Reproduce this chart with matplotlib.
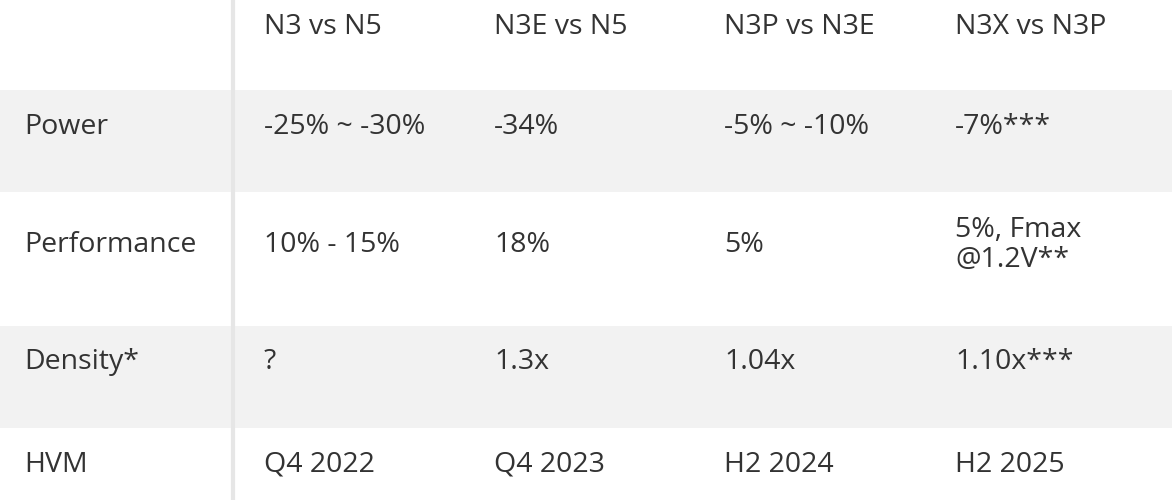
import matplotlib.pyplot as plt

columns = ["N3 vs N5", "N3E vs N5", "N3P vs N3E", "N3X vs N3P"]
row_labels = ["Power", "Performance", "Density*", "HVM"]
power = ["-25% ~ -30%", "-34%", "-5% ~ -10%", "-7%***"]
performance = ["10% - 15%", "18%", "5%", "5%, Fmax\n@1.2V**"]
density = ["?", "1.3x", "1.04x", "1.10x***"]
hvm = ["Q4 2022", "Q4 2023", "H2 2024", "H2 2025"]
rows = [power, performance, density, hvm]

# pixel layout of the table
row_bounds = [(90, 192), (192, 326), (326, 428), (428, 500)]
row_text_y = [127, 245, 362, 465]
row_fill = ["#f2f2f2", "white", "#f2f2f2", "white"]
col_x = [264, 494, 724, 955]
label_x = 24
text_color = "#333333"
font = dict(family=["Open Sans", "DejaVu Sans"], fontsize=20.5, color=text_color, va="center")

fig = plt.figure(figsize=(11.72, 5.0), dpi=100)
ax = fig.add_axes([0, 0, 1, 1])
ax.set_xlim(0, 1172)
ax.set_ylim(500, 0)
ax.axis("off")

for (top, bottom), fill in zip(row_bounds, row_fill):
    ax.axhspan(top, bottom, color=fill, lw=0, zorder=0)
ax.axvline(233, color="#e6e6e6", lw=3, zorder=1)

for x, name in zip(col_x, columns):
    ax.text(x, 27, name, **font)

for yc, label, values in zip(row_text_y, row_labels, rows):
    ax.text(label_x, yc, label, **font)
    for x, v in zip(col_x, values):
        ax.text(x, yc, v, linespacing=1.05, **font)

fig.savefig("out.png", dpi=100)
